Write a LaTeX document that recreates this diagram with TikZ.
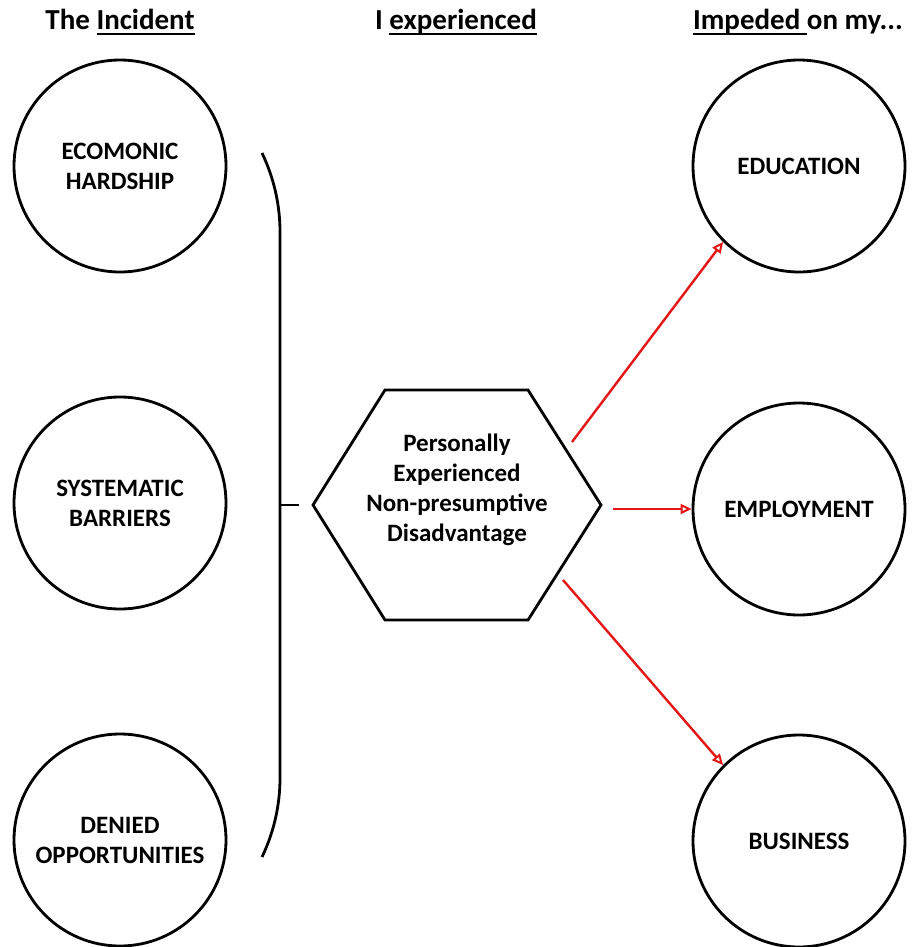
\documentclass[tikz,border=0pt]{standalone}
\usepackage{fontspec}
\setmainfont{Carlito}
\usetikzlibrary{arrows.meta}
\definecolor{arrowred}{RGB}{228,22,22}
\newcommand\myul[1]{\setbox0\hbox{#1}\rlap{\vrule height -3pt depth 5.5pt width \wd0}\box0}
\begin{document}
\begin{tikzpicture}[x=1pt,y=-1pt,
  circ/.style={circle, draw, line width=2.8pt, minimum size=212pt, inner sep=0pt,
    align=center, font=\fontsize{25}{30}\selectfont\bfseries},
  titletext/.style={font=\fontsize{29}{34}\selectfont\bfseries, anchor=base, inner sep=0pt},
  hexline/.style={line width=2.8pt, line join=miter},
  redarrow/.style={draw=arrowred, line width=2.4pt, -{Triangle[open, length=11pt, width=10pt, line width=2pt]}},
  brace/.style={line width=2.8pt}]
\useasboundingbox (0,0) rectangle (912,947);

% titles
\node[titletext] (ttl1) at (120,30) {The \myul{Incident}};
\node[titletext] (ttl2) at (456,30) {I \myul{experienced}};
\node[titletext] (ttl3) at (798,30) {\myul{Impeded\ }on my...};

% left circles
\node[circ] (eco) at (120,166) {ECOMONIC\\HARDSHIP};
\node[circ] (sys) at (120,503) {SYSTEMATIC\\BARRIERS};
\node[circ] (den) at (120,840) {DENIED\\OPPORTUNITIES};

% right circles
\node[circ] (edu) at (799,166) {EDUCATION};
\node[circ] (emp) at (799,509) {EMPLOYMENT};
\node[circ] (bus) at (799,841) {BUSINESS};

% bracket
\coordinate (b1) at (262,153);
\coordinate (b2) at (280,232);
\coordinate (b3) at (280,778);
\coordinate (b4) at (262,857);
\coordinate (tk1) at (280,505);
\coordinate (tk2) at (299,505);
\draw[brace] (b1) .. controls (274,178) and (280,205) .. (b2) -- (b3)
  .. controls (280,805) and (274,832) .. (b4);
\draw[brace] (tk1) -- (tk2);

% hexagon
\coordinate (h1) at (313,505);
\coordinate (h2) at (385,390);
\coordinate (h3) at (528,390);
\coordinate (h4) at (601,505);
\coordinate (h5) at (528,620);
\coordinate (h6) at (385,620);
\draw[hexline] (h1) -- (h2) -- (h3) -- (h4) -- (h5) -- (h6) -- cycle;
\node[align=center, font=\fontsize{25}{30}\selectfont\bfseries] (hex) at (457,490)
  {Personally\\Experienced\\Non-presumptive\\Disadvantage};

% arrows
\coordinate (a1) at (572,442);
\coordinate (a2) at (613,509);
\coordinate (a3) at (563,580);
\draw[redarrow] (a1) -- (edu.225);
\draw[redarrow] (a2) -- (emp.west);
\draw[redarrow] (a3) -- (bus.135);
\end{tikzpicture}
\end{document}
